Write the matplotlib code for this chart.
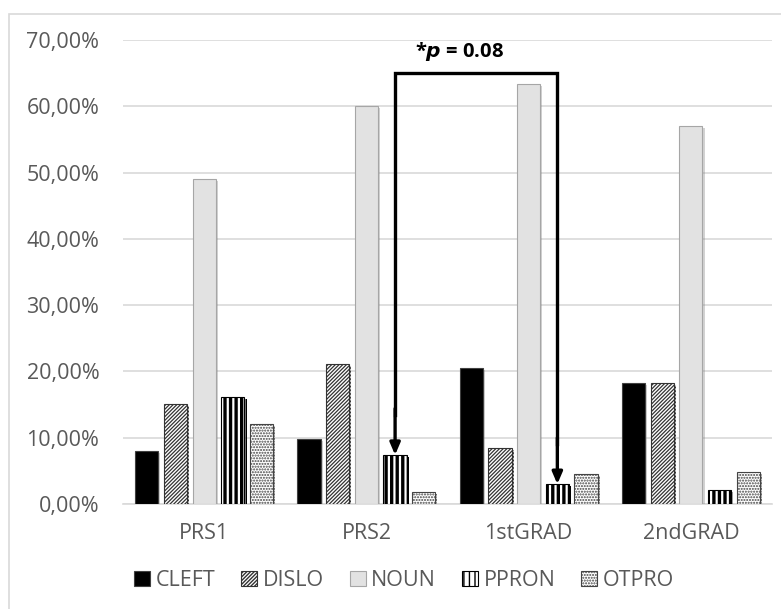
import matplotlib.pyplot as plt
import matplotlib.patheffects as pe
from matplotlib.patches import Rectangle
import numpy as np

plt.rcParams['font.family'] = ['Open Sans', 'DejaVu Sans']

groups = ["PRS1", "PRS2", "1stGRAD", "2ndGRAD"]
series = ["CLEFT", "DISLO", "NOUN", "PPRON", "OTPRO"]
cleft = [8.0, 9.8, 20.5, 18.2]
dislo = [15.1, 21.1, 8.4, 18.2]
noun = [49.0, 60.0, 63.4, 57.0]
ppron = [16.1, 7.4, 3.0, 2.1]
otpro = [12.1, 1.8, 4.5, 4.8]
values = [cleft, dislo, noun, ppron, otpro]

p_label = "*$\\boldsymbol{p}$ = 0.08"

styles = [
    dict(facecolor="black", edgecolor="#404040", hatch=None, hlw=1.0),
    dict(facecolor="white", edgecolor="#333333", hatch="/////////", hlw=0.9),
    dict(facecolor="#e2e2e2", edgecolor="#a6a6a6", hatch=None, hlw=1.0),
    dict(facecolor="white", edgecolor="black", hatch="|||", hlw=2.4),
    dict(facecolor="white", edgecolor="#444444", hatch="......", hlw=1.0),
]

fig = plt.figure(figsize=(7.81, 6.09), dpi=100)
ax = fig.add_axes([123 / 781, 1 - 504 / 609, (772 - 123) / 781, (504 - 40) / 609])

x = np.arange(len(groups))
step = 0.177
width = 0.143
shadow = [pe.SimplePatchShadow(offset=(1.5, -1.5), alpha=0.35, shadow_rgbFace="gray"), pe.Normal()]

for i, (name, vals) in enumerate(zip(series, values)):
    st = styles[i]
    plt.rcParams['hatch.linewidth'] = st["hlw"]
    bars = ax.bar(x + (i - 2) * step, vals, width, label=name, facecolor=st["facecolor"],
                  edgecolor=st["edgecolor"], hatch=st["hatch"], linewidth=0.8, zorder=3)
    for b in bars:
        b.set_path_effects(shadow)

ax.set_xlim(-0.5, 3.5)
ax.set_ylim(0, 70)
ax.set_yticks(np.arange(0, 71, 10))
ax.set_yticklabels([f"{v:.2f}%".replace(".", ",") for v in np.arange(0, 71, 10)])
ax.set_xticks(x)
ax.set_xticklabels(groups)
ax.tick_params(axis="both", length=0, labelsize=15.5, colors="#595959")
ax.tick_params(axis="y", pad=17)
ax.tick_params(axis="x", pad=14)
ax.grid(axis="y", color="#d9d9d9", linewidth=1.2, zorder=0)
for s in ["top", "right", "left"]:
    ax.spines[s].set_visible(False)
ax.spines["bottom"].set_color("#d9d9d9")
ax.spines["bottom"].set_linewidth(1.2)

# significance bracket between PRS2 and 1stGRAD PPRON bars
xa = x[1] + step
xb = x[2] + step
top = 65.0
ax.plot([xa, xa, xb, xb], [ppron[1] + 6, top, top, ppron[2] + 6], color="black", lw=2.4, zorder=5,
        solid_joinstyle="miter")
for xx, yy in [(xa, ppron[1]), (xb, ppron[2])]:
    ax.annotate("", xy=(xx, yy), xytext=(xx, yy + 7),
                arrowprops=dict(arrowstyle="-|>,head_length=0.7,head_width=0.3", color="black", lw=2.4,
                                shrinkA=0, shrinkB=0), zorder=5)
ax.text(1.575, 68.3, p_label, ha="center", va="center", fontsize=14.5, fontweight="bold", color="black")

leg = ax.legend(loc="center", bbox_to_anchor=(0.433, -0.165), ncol=5, frameon=False,
                fontsize=15.5, handlelength=0.75, handleheight=0.75, handletextpad=0.25,
                columnspacing=1.2, labelcolor="#595959")
for h in leg.legend_handles:
    h.set_path_effects([])

fig.patches.append(Rectangle((9 / 781, -0.1), 2, 1.1 - 14 / 609, transform=fig.transFigure,
                             fill=False, edgecolor="#d9d9d9", linewidth=1.2))

fig.savefig("out.png", dpi=100)
